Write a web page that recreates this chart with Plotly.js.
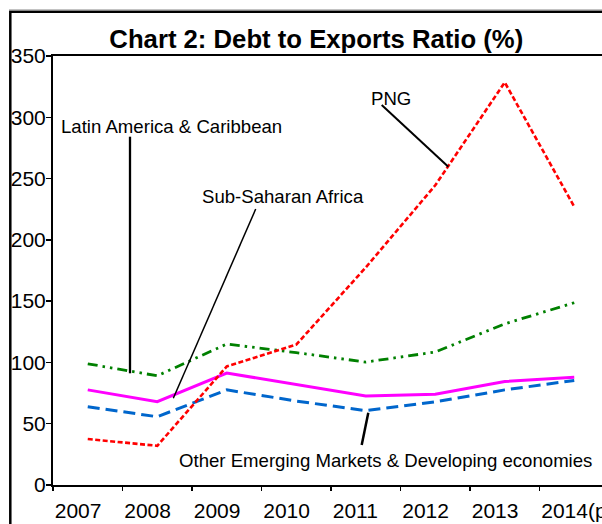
<!DOCTYPE html>
<html><head><meta charset="utf-8">
<script src="https://cdn.plot.ly/plotly-3.0.1.min.js"></script>
<style>html,body{margin:0;padding:0;overflow:hidden;background:#fff}#chart{width:640px;height:560px}</style>
</head><body><div id="chart"></div>
<script>
// ---- data ----
const years = ['2007', '2008', '2009', '2010', '2011', '2012', '2013', '2014(p)'];
const png = [37.5, 32, 96.7, 114.5, 177.5, 244.5, 328.5, 227];
const latinAmerica = [98.9, 89.1, 115, 108, 100.3, 108.5, 131.5, 148.7];
const subSaharanAfrica = [77.6, 68, 91.3, 81.7, 72.7, 74, 84.4, 88];
const otherEMDE = [63.9, 55.7, 77.6, 68.5, 60.7, 67.8, 77.6, 85.3];
const yTickValues = [0, 50, 100, 150, 200, 250, 300, 350];

const seriesNames = ['Other Emerging Markets & Developing economies', 'Sub-Saharan Africa', 'Latin America & Caribbean', 'PNG'];
const titleText = 'Chart 2: Debt to Exports Ratio (%)';

// ---- geometry (layout only) ----
const W = 640, H = 560, ML = 53, MR = 31, MT = 56, MB = 75;
const PW = W - ML - MR, PH = H - MT - MB;
const xRange = [-0.5, years.length - 0.5], yRange = [0, 350];
const FONT = 'Liberation Sans, Arial, sans-serif';
const X = px => xRange[0] + (px - ML) / PW * (xRange[1] - xRange[0]);
const Y = py => yRange[1] - (py - MT) / PH * (yRange[1] - yRange[0]);
const PX = px => (px - ML) / PW;
const PY = py => (MT + PH - py) / PH;

const xIdx = years.map((_, i) => i);

const traces = [
  {x: xIdx, y: otherEMDE, name: seriesNames[0], mode: 'lines',
   line: {color: '#0066CC', width: 3, dash: '12px,6px'}},
  {x: xIdx, y: subSaharanAfrica, name: seriesNames[1], mode: 'lines',
   line: {color: '#FF00FF', width: 3}},
  {x: xIdx, y: latinAmerica, name: seriesNames[2], mode: 'lines',
   line: {color: '#008000', width: 2.8, dash: '10px,5px,2.5px,5px,2.5px,5px'}},
  {x: xIdx, y: png, name: seriesNames[3], mode: 'lines',
   line: {color: '#FF0000', width: 2.6, dash: '5px,2.5px'}}
];

function leader(x0, y0, x1, y1, w) {
  return {type: 'line', xref: 'x', yref: 'y', x0: X(x0), y0: Y(y0), x1: X(x1), y1: Y(y1),
          line: {color: '#000', width: w}, layer: 'above'};
}
function label(text, px, py, anchor) {
  return {text: text, xref: 'x', yref: 'y', x: X(px), y: Y(py), xanchor: anchor, yanchor: 'middle',
          showarrow: false, font: {family: FONT, size: 18.6, color: '#000'}};
}

const layout = {
  width: W, height: H,
  margin: {l: ML, r: MR, t: MT, b: MB, pad: 0},
  paper_bgcolor: '#fff', plot_bgcolor: '#fff',
  showlegend: false,
  title: {text: titleText, font: {family: FONT, size: 25.7, color: '#000', weight: 'bold'},
          xref: 'container', yref: 'container', x: 316.3 / W, xanchor: 'center', y: 1 - 39 / H, yanchor: 'middle'},
  xaxis: {range: xRange, tickmode: 'array', tickvals: years.map((_, i) => i - 0.5), ticktext: years,
          ticklabelposition: 'outside right', ticklabelstandoff: 6, ticks: 'outside', ticklen: 4, tickwidth: 1.5, tickcolor: '#000',
          showline: true, linecolor: '#000', linewidth: 2, mirror: true, showgrid: false, zeroline: false,
          tickfont: {family: FONT, size: 21, color: '#000'}, automargin: false, fixedrange: true},
  yaxis: {range: yRange, tickmode: 'array', tickvals: yTickValues, ticktext: yTickValues.map(String),
          ticklabelstandoff: -4,
          ticks: 'outside', ticklen: 5, tickwidth: 1.5, tickcolor: '#000',
          showline: true, linecolor: '#000', linewidth: 2, mirror: true, showgrid: false, zeroline: false,
          tickfont: {family: FONT, size: 21, color: '#000'}, automargin: false, fixedrange: true},
  annotations: [
    label(seriesNames[3], 391, 98.5, 'center'),
    label(seriesNames[2], 59.3, 126.2, 'left'),
    label(seriesNames[1], 200, 196.8, 'left'),
    label(seriesNames[0], 176.7, 460.2, 'left')
  ],
  shapes: [
    leader(381.7, 105, 448.3, 166.7, 2),
    leader(130, 136.7, 130, 373.3, 2.3),
    leader(255.7, 209, 173.3, 398.3, 1.5),
    leader(368.3, 412.7, 361.7, 445, 2.5),
    {type: 'rect', xref: 'paper', yref: 'paper', x0: PX(10.3), x1: PX(760), y0: PY(11.8), y1: PY(760),
     line: {color: '#000', width: 2.5}, fillcolor: 'rgba(0,0,0,0)', layer: 'above'},
    {type: 'line', xref: 'paper', yref: 'paper', x0: PX(9), x1: PX(760), y0: PY(9.6), y1: PY(9.6),
     line: {color: '#bdbdbd', width: 1}, layer: 'above'}
  ]
};

Plotly.newPlot('chart', traces, layout, {staticPlot: true, displayModeBar: false});
</script>
</body></html>
